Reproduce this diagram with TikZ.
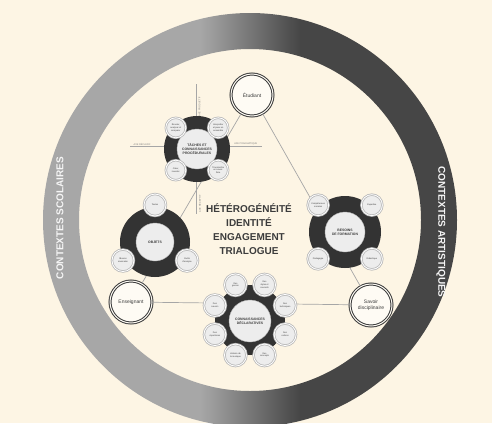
\documentclass[tikz,border=0pt]{standalone}
\usepackage{fontspec}
\setmainfont{Liberation Sans}
\usetikzlibrary{positioning, calc}
\definecolor{paper}{HTML}{FDF5E4}
\definecolor{ringgray}{HTML}{A7A7A7}
\definecolor{ringdark}{HTML}{464646}
\definecolor{hubdark}{HTML}{333333}
\definecolor{coregray}{HTML}{EDEDED}
\definecolor{inkgray}{HTML}{3C3C3C}
\pgfdeclarehorizontalshading{ringshade}{100bp}{color(0bp)=(ringgray); color(44bp)=(ringgray); color(56bp)=(ringdark); color(100bp)=(ringdark)}
\tikzset{
	every text node part/.style= {
		align=center
	},
	pole/.style= {
		circle, fill=white!60!paper, draw=inkgray, line width=1pt,
		double=white!60!paper, double distance=1pt,
		minimum size=42pt, inner sep=0,
		font=\fontsize{5}{6}\selectfont, text=inkgray
	},
	hub/.style= {circle, fill=hubdark, minimum size=#1, inner sep=0},
	core/.style= {
		circle, fill=coregray, draw=gray!60, line width=0.4pt,
		minimum size=#1, inner sep=0,
		font=\fontsize{3.4}{4}\selectfont\bfseries, text=inkgray
	},
	sat/.style= {
		circle, fill=coregray, draw=gray!55, line width=0.8pt,
		double=white, double distance=0.8pt,
		minimum size=#1, inner sep=0,
		font=\fontsize{2.2}{2.7}\selectfont, text=inkgray
	},
	tri/.style={gray!70, line width=0.7pt},
	axe/.style={gray!70, line width=0.5pt},
	axelabel/.style={font=\fontsize{2.4}{3}\selectfont, text=gray, inner sep=0.5pt},
	ringtext/.style={font=\fontsize{10}{12}\selectfont\bfseries, text=white!92!gray},
}

\begin{document}
\begin{tikzpicture}[x=1pt, y=-1pt]
	\useasboundingbox (0,0) rectangle (492,423);
	\fill[paper] (0,0) rectangle (492,423);
	
	% ring of contexts
	\shade[shading=ringshade, even odd rule] (250,220) circle (207) (250,220) circle (171);
	\node (scolaires)[ringtext, rotate=90] at (60,218) {CONTEXTES SCOLAIRES};
	\node (artistiques)[ringtext, rotate=-90] at (441,232) {CONTEXTES ARTISTIQUES};
	
	% trialogue
	\node (etudiant)[pole] at (252,95) {Étudiant};
	\node (enseignant)[pole] at (131,302) {Enseignant};
	\node (savoir)[pole] at (371,305) {Savoir\\disciplinaire};
	\draw[tri] (etudiant) -- (enseignant);
	\draw[tri] (etudiant) -- (savoir);
	\draw[tri] (enseignant) -- (savoir);
	
	\node (themes)[font=\fontsize{10}{14}\selectfont\bfseries, text=inkgray] at (249,229)
		{HÉTÉROGÉNÉITÉ\\IDENTITÉ\\ENGAGEMENT\\TRIALOGUE};
	
	% axes
	\coordinate (axeW) at (130,146);
	\coordinate (axeE) at (262,146);
	\coordinate (axeN) at (196,84);
	\coordinate (axeS) at (196,214);
	\draw[axe] (axeW) -- (axeE);
	\draw[axe] (axeN) -- (axeS);
	\node (axeWl)[axelabel, anchor=south west] at ([xshift=3pt]axeW) {AXE RÉFLEXIF};
	\node (axeEl)[axelabel, anchor=south east] at ([xshift=-4pt]axeE) {AXE PRAGMATIQUE};
	\node (axeNl)[axelabel, rotate=90, anchor=north west] at (198,117) {AXE PRODUCTIF};
	\node (axeSl)[axelabel, rotate=90, anchor=north west] at (198,213) {AXE RÉCEPTIF};
	
	% taches
	\node (tacheshub)[hub=66pt] at (197,149) {};
	\node (taches)[core=40pt] at (197,149) {TÂCHES ET\\CONNAISSANCES\\PROCÉDURALES};
	\foreach[count=\i from 1] \ang/\txt in {225/{Écouter,\\analyser et\\comparer}, 315/{Interpréter\\et jouer en\\ensemble}, 135/{Créer,\\inventer}, 45/{Transmettre\\un savoir-\\faire}}
	{
		\node (taches\i)[sat=20pt] at ($(taches)+(\ang:30)$) {\txt};
	}
	
	% objets
	\node (objetshub)[hub=70pt] at (155,242) {};
	\node (objets)[core=38pt] at (155,242) {OBJETS};
	\foreach[count=\i from 1] \ang/\txt in {270/{Textes}, 150/{Œuvres\\musicales}, 30/{Outils\\d'analyse}}
	{
		\node (objets\i)[sat=22pt] at ($(objets)+(\ang:37)$) {\txt};
	}
	
	% besoins
	\node (besoinshub)[hub=72pt] at (345,232) {};
	\node (besoins)[core=40pt] at (345,232) {BESOINS\\DE FORMATION};
	\foreach[count=\i from 1] \ang/\txt in {225/{Compétences\\sociales}, 315/{Expertise}, 135/{Pédagogie}, 45/{Didactique}}
	{
		\node (besoins\i)[sat=21pt] at ($(besoins)+(\ang:38)$) {\txt};
	}
	
	% connaissances
	\node (connhub)[hub=70pt] at (250,320) {};
	\node (connaissances)[core=42pt] at (250,321) {CONNAISSANCES\\DÉCLARATIVES};
	\foreach[count=\i from 1] \ang/\txt in {247.5/{Des\\genres}, 292.5/{Des\\styles et\\courants}, 202.5/{Des\\savoirs}, 337.5/{Des\\techniques}, 157.5/{Des\\répertoires}, 22.5/{Des\\notions}, 112.5/{Histoire de\\la musique}, 67.5/{Des\\concepts}}
	{
		\node (conn\i)[sat=22pt] at ($(connhub)+(\ang:38)$) {\txt};
	}
	
\end{tikzpicture}
\end{document}
